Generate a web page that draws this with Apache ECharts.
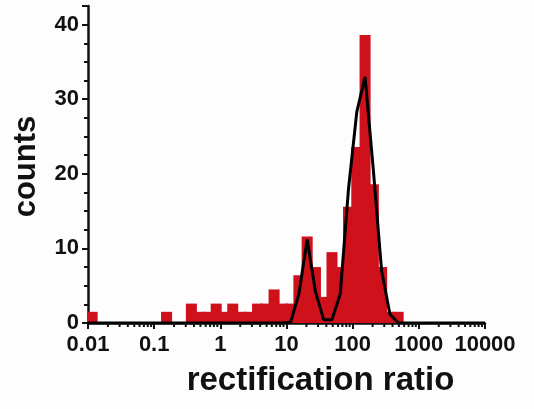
<!DOCTYPE html>
<html><head><meta charset="utf-8">
<script src="https://cdn.jsdelivr.net/npm/echarts@6/dist/echarts.min.js"></script>
<style>html,body{margin:0;padding:0;background:#fdfdfd}#c{width:534px;height:409px}</style>
</head><body><div id="c"></div>
<script>
// Histogram bins: log10 edges start at -2 (0.01), width 0.125 decade
const binStartLog = -2;
const binWidthLog = 0.125;
// bar heights per bin
const counts = [1.5,0,0,0,0,0,0,0,0,1.5,
                0,0,2.6,1.5,1.5,2.6,1.5,2.6,1.5,1.5,
                2.6,2.6,4.5,2.6,2.6,6.4,11.6,7.5,3.5,9.5,
                7.5,15.6,23.6,38.6,18.6,7.5,1.5,1.5,0,0,
                0,0,0,0,0,0,0,0];
// fitted curve values at bin centres
const fitCounts = [0,0,0,0,0,0,0,0,0,0,
                   0,0,0,0,0,0,0,0,0,0,
                   0,0,0,0,0.1,3.9,11.2,4.2,0.45,0.45,
                   3.9,18,28.3,33,20.5,7,1.2,0,0,0,
                   0,0,0,0,0,0,0,0];
const xMin = 0.01, xMax = 10000;
const yMin = 0, yMax = 42.5;
const xTickLabels = ['0.01','0.1','1','10','100','1000','10000'];
const yTickLabels = ['0','10','20','30','40'];

const barColor = '#cf111c';
const font = '"Liberation Sans", Arial, Helvetica, sans-serif';

const barData = [];
counts.forEach((c, k) => {
  if (c <= 0) return;
  const centre = binStartLog + (k + 0.5) * binWidthLog;
  const half = binWidthLog * 2 / 3;
  barData.push([Math.pow(10, centre - half), Math.pow(10, centre + half), c]);
});
const fitData = [[xMin, 0]];
fitCounts.forEach((v, k) => {
  fitData.push([Math.pow(10, binStartLog + (k + 0.5) * binWidthLog), v]);
});
fitData.push([xMax, 0]);

// minor log ticks 2..9 per decade
const minorTicks = [];
for (let e = -2; e < 4; e++) for (let d = 2; d <= 9; d++) minorTicks.push([d * Math.pow(10, e), 0]);

const chart = echarts.init(document.getElementById('c'), null, {renderer: 'canvas'});
chart.setOption({
  backgroundColor: '#fdfdfd',
  animation: false,
  grid: {left: 88, right: 49, top: 6, bottom: 86},
  xAxis: {
    type: 'log', logBase: 10, min: xMin, max: xMax, splitNumber: 6,
    name: 'rectification ratio', nameLocation: 'middle', nameGap: 41,
    nameTextStyle: {fontFamily: font, fontWeight: 'bold', fontSize: 33, color: '#111',
                    padding: [0, 0, 0, 68]},
    axisLine: {show: true, lineStyle: {color: '#111', width: 2.5}},
    axisTick: {show: true, inside: false, length: 6, lineStyle: {color: '#111', width: 2}},
    axisLabel: {
      margin: 11, color: '#111', fontFamily: font, fontWeight: 'bold', fontSize: 22,
      formatter: v => {
        const s = String(Number(v.toPrecision(6)));
        return xTickLabels.indexOf(s) >= 0 ? s : '';
      }
    },
    splitLine: {show: false}
  },
  yAxis: [{
    type: 'value', min: yMin, max: yMax, interval: 10, position: 'left',
    name: 'counts', nameLocation: 'middle', nameGap: 46,
    nameTextStyle: {fontFamily: font, fontWeight: 'bold', fontSize: 31, color: '#111',
                    padding: [0, 4, 0, 0]},
    axisLine: {show: true, lineStyle: {color: '#111', width: 2.5}},
    axisTick: {show: true, inside: false, length: 6, lineStyle: {color: '#111', width: 2}},
    axisLabel: {
      margin: 9, color: '#111', fontFamily: font, fontWeight: 'bold', fontSize: 22,
      formatter: v => { const s = String(v); return yTickLabels.indexOf(s) >= 0 ? s : ''; }
    },
    splitLine: {show: false}
  }, {
    type: 'value', min: yMin, max: yMax, interval: 2.5, position: 'left',
    axisLine: {show: false},
    axisTick: {show: true, inside: false, length: 4, lineStyle: {color: '#111', width: 2}},
    axisLabel: {show: false},
    splitLine: {show: false}
  }],
  series: [{
    type: 'custom', name: 'counts', xAxisIndex: 0, yAxisIndex: 0,
    data: barData, z: 2,
    renderItem: (params, api) => {
      const p0 = api.coord([api.value(0), 0]);
      const p1 = api.coord([api.value(1), api.value(2)]);
      const cs = params.coordSys;
      const x0 = Math.max(p0[0], cs.x);
      const x1 = Math.min(p1[0], cs.x + cs.width);
      return {type: 'rect', shape: {x: x0, y: p1[1], width: x1 - x0, height: p0[1] - p1[1]},
              style: {fill: barColor}};
    }
  }, {
    type: 'line', name: 'fit', data: fitData, showSymbol: false, symbol: 'none', z: 5,
    lineStyle: {color: '#000', width: 3}
  }, {
    type: 'custom', name: 'minorTicks', data: minorTicks, z: 6, silent: true, clip: false,
    renderItem: (params, api) => {
      const p = api.coord([api.value(0), 0]);
      return {type: 'line', shape: {x1: p[0], y1: p[1], x2: p[0], y2: p[1] + 4},
              style: {stroke: '#111', lineWidth: 2}};
    }
  }]
});
</script></body></html>
